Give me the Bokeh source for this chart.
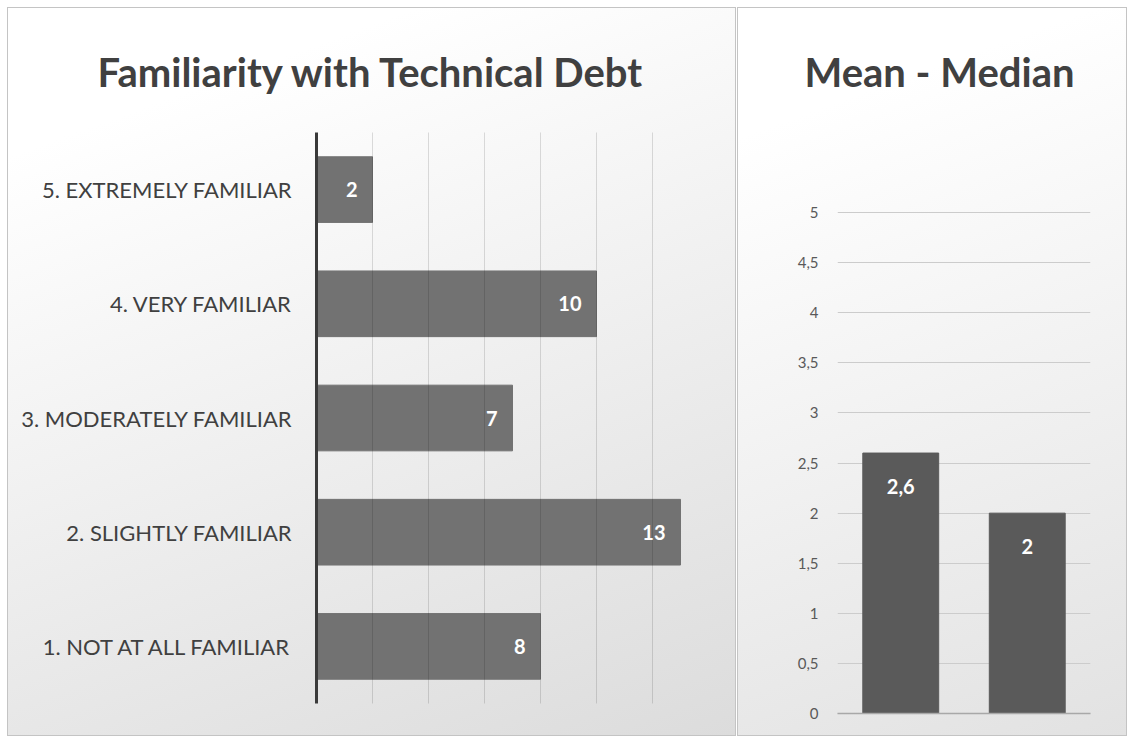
from bokeh.plotting import figure
from bokeh.models import (ColumnDataSource, FactorRange, Range1d, LabelSet, Title, Grid,
                          SingleIntervalTicker, FixedTicker)
from bokeh.core.properties import value
from bokeh.layouts import row
from bokeh.embed import file_html
from bokeh.resources import INLINE

# ---- data ----
categories = ["1. NOT AT ALL FAMILIAR", "2. SLIGHTLY FAMILIAR", "3. MODERATELY FAMILIAR",
              "4. VERY FAMILIAR", "5. EXTREMELY FAMILIAR"]
counts = [8, 13, 7, 10, 2]
stats = ["Mean", "Median"]
stat_values = [2.6, 2]
y_ticks = [0, 0.5, 1, 1.5, 2, 2.5, 3, 3.5, 4, 4.5, 5]
y_tick_labels = ["0", "0,5", "1", "1,5", "2", "2,5", "3", "3,5", "4", "4,5", "5"]
title_left = "Familiarity with Technical Debt"
title_right = "Mean - Median"

FONT = "Lato"
TXT = "#404040"


def make_title(text, offset, standoff):
    return Title(text=text, align="left", offset=offset, standoff=standoff,
                 text_font=FONT, text_font_size="40px", text_font_style="bold",
                 text_color=TXT)


# ---- left panel ----
src1 = ColumnDataSource(dict(cat=categories, val=counts, lab=[str(v) for v in counts]))
p1 = figure(width=727, height=727, y_range=FactorRange(*categories, range_padding=0),
            x_range=Range1d(0, 14), output_backend="svg", toolbar_location=None,
            title=make_title(title_left, -219, 74),
            min_border_left=308, min_border_right=27, min_border_top=119, min_border_bottom=32)
p1.frame_align = False
p1.hbar(y="cat", right="val", height=0.575, source=src1, color="#727272")
p1.add_layout(LabelSet(x="val", y="cat", text="lab", source=src1, x_offset=-15,
                       text_align="right", text_baseline="middle", text_color="white",
                       text_font_size="20px", text_font_style="bold", text_font=value(FONT)))
p1.xaxis.visible = False
p1.xgrid.ticker = SingleIntervalTicker(interval=2)
p1.xgrid.grid_line_color = "#000000"
p1.xgrid.grid_line_alpha = 0.13
p1.xgrid.level = "guide"
p1.ygrid.visible = False
p1.yaxis.axis_line_color = "#3a3a3a"
p1.yaxis.axis_line_width = 3
p1.yaxis.major_tick_line_color = None
p1.yaxis.minor_tick_line_color = None
p1.yaxis.major_label_standoff = 18
p1.yaxis.major_label_text_font = FONT
p1.yaxis.major_label_text_font_size = "22px"
p1.yaxis.major_label_text_color = TXT
p1.outline_line_color = None
p1.background_fill_alpha = 0
p1.border_fill_alpha = 0
p1.styles = {"background": "linear-gradient(160deg, #ffffff 15%, #dcdcdc 100%)",
             "box-shadow": "0 0 0 1px #c4c4c4"}

# ---- right panel ----
src2 = ColumnDataSource(dict(cat=stats, val=stat_values,
                             lab=[str(v).replace(".", ",") for v in stat_values]))
p2 = figure(width=388, height=727, x_range=FactorRange(*stats, range_padding=0),
            y_range=Range1d(-0.01, 5.80), output_backend="svg", toolbar_location=None,
            title=make_title(title_right, -33, 74),
            min_border_left=99, min_border_right=36, min_border_top=119, min_border_bottom=21)
p2.frame_align = False
p2.vbar(x="cat", top="val", width=0.6, source=src2, color="#5a5a5a")
p2.add_layout(LabelSet(x="cat", y="val", text="lab", source=src2, y_offset=-33,
                       text_align="center", text_baseline="middle", text_color="white",
                       text_font_size="20px", text_font_style="bold", text_font=value(FONT)))
p2.xaxis.visible = False
p2.xgrid.visible = False
p2.yaxis.ticker = FixedTicker(ticks=y_ticks)
p2.yaxis.major_label_overrides = {t: l for t, l in zip(y_ticks, y_tick_labels)}
p2.yaxis.axis_line_color = None
p2.yaxis.major_tick_line_color = None
p2.yaxis.minor_tick_line_color = None
p2.yaxis.major_label_standoff = 13
p2.yaxis.major_label_text_font = FONT
p2.yaxis.major_label_text_font_size = "15px"
p2.yaxis.major_label_text_color = "#595959"
p2.ygrid.grid_line_color = "#cccccc"
# darker baseline at the first tick (0)
p2.add_layout(Grid(dimension=1, ticker=FixedTicker(ticks=y_ticks[:1]),
                   grid_line_color="#a8a8a8", grid_line_width=1.5, level="guide"))
p2.outline_line_color = None
p2.background_fill_alpha = 0
p2.border_fill_alpha = 0
p2.styles = {"background": "linear-gradient(160deg, #ffffff 15%, #e2e2e2 100%)",
             "box-shadow": "0 0 0 1px #c4c4c4"}

layout = row(p1, p2, spacing=3, margin=(8, 0, 0, 8))
open("out.html", "w").write(file_html(layout, INLINE))
